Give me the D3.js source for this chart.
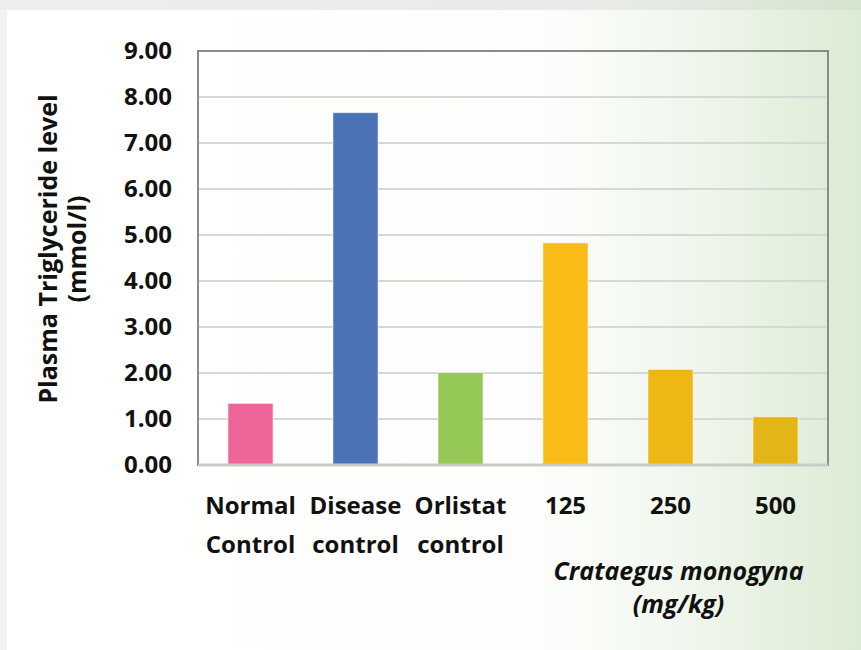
<!DOCTYPE html>
<html lang="en">
<head>
    <meta charset="UTF-8">
    <title>Plasma Triglyceride level</title>
    <script src="https://d3js.org/d3.v7.min.js"></script>
    <style>
        body { margin: 0; padding: 0; }
        svg { display: block; font-family: "Open Sans", Lato, sans-serif; }
        .tick-label { font-size: 24px; font-weight: bold; fill: #111; }
        .axis-title { font-size: 25px; font-weight: bold; fill: #111; }
    </style>
</head>
<body>
    <svg id="chart"></svg>
    <script>
        // data
        const groups = ["Normal Control", "Disease control", "Orlistat control", "125", "250", "500"];
        const groupLines = [["Normal", "Control"], ["Disease", "control"], ["Orlistat", "control"], ["125"], ["250"], ["500"]];
        const values = [1.34, 7.66, 2.01, 4.83, 2.08, 1.05];
        const barColors = ["#ee6699", "#4a72b5", "#95c856", "#f9bc16", "#eeb714", "#e4b516"];
        const yTicks = [0, 1, 2, 3, 4, 5, 6, 7, 8, 9];

        const width = 861, height = 650;
        const margin = { top: 51, right: 33, bottom: 185, left: 198 };

        const svg = d3.select("#chart").attr("width", width).attr("height", height);

        // background: grey frame shadow + white card fading to pale green on the right
        const defs = svg.append("defs");
        const grad = defs.append("linearGradient").attr("id", "bg").attr("x1", 0).attr("x2", 1).attr("y1", 0).attr("y2", 0);
        grad.append("stop").attr("offset", "0%").attr("stop-color", "#ffffff");
        grad.append("stop").attr("offset", "62%").attr("stop-color", "#fdfefc");
        grad.append("stop").attr("offset", "80%").attr("stop-color", "#f0f6ed");
        grad.append("stop").attr("offset", "100%").attr("stop-color", "#dcebd4");
        const topGrad = defs.append("linearGradient").attr("id", "topband").attr("x1", 0).attr("x2", 1).attr("y1", 0).attr("y2", 0);
        topGrad.append("stop").attr("offset", "0%").attr("stop-color", "#ededed");
        topGrad.append("stop").attr("offset", "70%").attr("stop-color", "#e9ebe8");
        topGrad.append("stop").attr("offset", "100%").attr("stop-color", "#d6e3d0");

        svg.append("rect").attr("width", width).attr("height", height).attr("fill", "#f2f2f2");
        svg.append("rect").attr("width", width).attr("height", 10).attr("fill", "url(#topband)");
        svg.append("rect").attr("x", 7).attr("y", 10).attr("width", width - 7).attr("height", height - 10).attr("fill", "url(#bg)");

        const x = d3.scaleBand()
            .domain(groups)
            .range([margin.left, width - margin.right])
            .paddingInner(0.57)
            .paddingOuter(0.285);

        const y = d3.scaleLinear()
            .domain([0, 9])
            .range([height - margin.bottom, margin.top]);

        // gridlines
        svg.append("g")
            .selectAll("line")
            .data(yTicks.filter(d => d > 0 && d < 9))
            .enter()
            .append("line")
            .attr("x1", margin.left)
            .attr("x2", width - margin.right)
            .attr("y1", d => y(d))
            .attr("y2", d => y(d))
            .attr("stroke", "#d6d8d4")
            .attr("stroke-width", 2);

        // bars
        svg.selectAll(".bar")
            .data(values)
            .enter()
            .append("rect")
            .attr("class", "bar")
            .attr("x", (d, i) => x(groups[i]))
            .attr("y", d => y(d))
            .attr("width", x.bandwidth())
            .attr("height", d => y(0) - y(d))
            .attr("fill", (d, i) => barColors[i])
            .attr("stroke", "rgba(255,255,255,0.6)")
            .attr("stroke-width", 1);

        // plot frame
        svg.append("rect")
            .attr("x", margin.left)
            .attr("y", margin.top)
            .attr("width", width - margin.right - margin.left)
            .attr("height", y(0) - margin.top)
            .attr("fill", "none")
            .attr("stroke", "#8a8c88")
            .attr("stroke-width", 2);
        svg.append("line")
            .attr("x1", margin.left).attr("x2", width - margin.right)
            .attr("y1", y(0)).attr("y2", y(0))
            .attr("stroke", "#c9cbc6").attr("stroke-width", 3);

        // y axis labels
        const yAxis = svg.append("g")
            .attr("transform", `translate(${margin.left},0)`)
            .call(d3.axisLeft(y).tickValues(yTicks).tickFormat(d3.format(".2f")).tickSize(0).tickPadding(26));
        yAxis.select(".domain").remove();
        yAxis.attr("font-family", null).attr("font-size", null);
        yAxis.selectAll("text").attr("class", "tick-label");

        // x axis labels (two lines)
        const xl = svg.append("g").selectAll("text")
            .data(groups)
            .enter()
            .append("text")
            .attr("class", "tick-label")
            .attr("text-anchor", "middle")
            .attr("x", d => x(d) + x.bandwidth() / 2)
            .attr("y", 514);
        xl.selectAll("tspan")
            .data((d, i) => groupLines[i])
            .enter()
            .append("tspan")
            .attr("x", function () { return this.parentNode.getAttribute("x"); })
            .attr("dy", (d, i) => i === 0 ? 0 : 39)
            .text(d => d);

        // group caption under the dose bars
        const capX = (x("125") + x("500") + x.bandwidth()) / 2 + 8;
        const cap = svg.append("text")
            .attr("class", "axis-title")
            .attr("text-anchor", "middle")
            .style("font-style", "italic");
        cap.append("tspan").attr("x", capX).attr("y", 580).text("Crataegus monogyna");
        cap.append("tspan").attr("x", capX).attr("y", 613).text("(mg/kg)");

        // y axis title
        const yt = svg.append("text")
            .attr("class", "axis-title")
            .attr("text-anchor", "middle")
            .attr("transform", `translate(0,249) rotate(-90)`);
        yt.append("tspan").attr("x", 0).attr("y", 57).text("Plasma Triglyceride level");
        yt.append("tspan").attr("x", 0).attr("y", 86).text("(mmol/l)");
    </script>
</body>
</html>
